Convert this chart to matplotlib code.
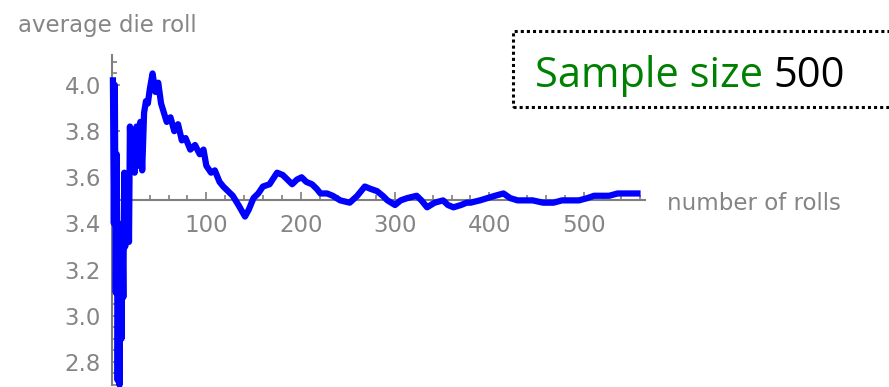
import numpy as np
import matplotlib.pyplot as plt
from matplotlib.patches import Rectangle
from matplotlib.ticker import MultipleLocator

# running average of die rolls
rolls = [1, 2, 3, 4, 5, 6, 7, 8, 9, 10,
         11, 12, 13, 14, 15, 16, 17, 18, 19, 20,
         22, 24, 26, 28, 30, 32, 34, 36, 38, 40,
         43, 46, 49, 52, 55, 58, 62, 66, 70, 74,
         78, 83, 88, 93, 97, 100, 105, 109, 114, 118,
         123, 128, 134, 141, 145, 150, 155, 160, 167, 175,
         181, 186, 191, 196, 201, 206, 212, 217, 221, 228,
         234, 242, 252, 260, 268, 274, 281, 287, 292, 300,
         306, 313, 323, 328, 334, 342, 351, 356, 362, 370,
         376, 380, 390, 398, 406, 415, 422, 430, 438, 446,
         457, 468, 477, 486, 495, 504, 511, 518, 527, 536,
         546, 557]
avg = [4.02, 3.40, 4.00, 3.10, 3.70, 2.72, 3.40, 2.70, 3.30, 2.90,
       3.40, 3.08, 3.62, 3.30, 3.55, 3.35, 3.60, 3.32, 3.82, 3.70,
       3.78, 3.62, 3.82, 3.65, 3.84, 3.63, 3.88, 3.93, 3.92, 3.98,
       4.05, 3.97, 4.01, 3.92, 3.88, 3.84, 3.86, 3.80, 3.83, 3.76,
       3.77, 3.72, 3.74, 3.70, 3.72, 3.65, 3.62, 3.63, 3.58, 3.56,
       3.54, 3.52, 3.48, 3.43, 3.46, 3.51, 3.53, 3.56, 3.57, 3.62,
       3.61, 3.59, 3.57, 3.59, 3.60, 3.58, 3.57, 3.55, 3.53, 3.53,
       3.52, 3.50, 3.49, 3.52, 3.56, 3.55, 3.54, 3.52, 3.50, 3.48,
       3.50, 3.51, 3.52, 3.50, 3.47, 3.49, 3.50, 3.48, 3.47, 3.48,
       3.49, 3.49, 3.50, 3.51, 3.52, 3.53, 3.51, 3.50, 3.50, 3.50,
       3.49, 3.49, 3.50, 3.50, 3.50, 3.51, 3.52, 3.52, 3.52, 3.53,
       3.53, 3.53]

xticks = [100, 200, 300, 400, 500]
yticks = [2.8, 3.0, 3.2, 3.4, 3.6, 3.8, 4.0]
ytick_labels = ['2.8', '3.0', '3.2', '3.4', '3.6', '3.8', '4.0']

gray = '#7f7f7f'
txt_gray = '#858585'
W, H = 889, 387

fig = plt.figure(figsize=(W/100, H/100), dpi=100)
ax = fig.add_axes([112/W, 2/H, 533/W, 330/H])
ax.plot(rolls, avg, color='#0000ff', lw=4.5, solid_joinstyle='round', clip_on=False, zorder=3)

ax.set_xlim(0, 565)
ax.set_ylim(2.70, 4.13)
for s in ['top', 'right']:
    ax.spines[s].set_visible(False)
ax.spines['bottom'].set_position(('data', 3.5))
ax.spines['left'].set_position(('data', 0))
for s in ['bottom', 'left']:
    ax.spines[s].set_color(gray)
    ax.spines[s].set_linewidth(1.5)

ax.set_xticks(xticks)
ax.set_yticks(yticks)
ax.set_yticklabels(ytick_labels)
ax.xaxis.set_minor_locator(MultipleLocator(20))
ax.yaxis.set_minor_locator(MultipleLocator(0.05))
ax.tick_params(which='both', direction='in', color=gray, width=1.2)
ax.tick_params(which='major', length=6, labelsize=16.5, labelcolor=txt_gray)
ax.tick_params(which='minor', length=3.5)
ax.tick_params(axis='x', pad=10)
ax.tick_params(axis='y', pad=8)

fig.text(18/W, 1 - 32/H, 'average die roll', fontsize=16.5, color=txt_gray,
         va='baseline', ha='left')
fig.text(667/W, 1 - 210/H, 'number of rolls', fontsize=16.5, color=txt_gray,
         va='baseline', ha='left')

# dotted box with the sample size
box = Rectangle((513/W, 1 - 107/H), 420/W, 76/H, transform=fig.transFigure,
                fill=False, ec='black', lw=2.2, ls=(0, (1, 1)), clip_on=False)
fig.add_artist(box)
t1 = fig.text(535/W, 1 - 87/H, 'Sample size ', fontsize=30, color='#008000',
              family='Open Sans', va='baseline', ha='left')
fig.canvas.draw()
bb = t1.get_window_extent()
fig.text(bb.x1/W, 1 - 87/H, '500', fontsize=30, color='black',
         family='Open Sans', va='baseline', ha='left')

plt.savefig('out.png', dpi=100)
